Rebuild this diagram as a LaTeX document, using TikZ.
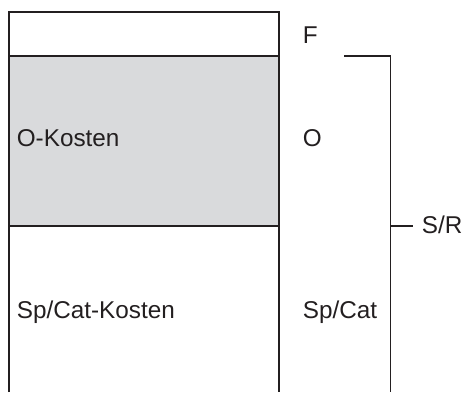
\documentclass[tikz,border=0pt]{standalone}
\usepackage{fontspec}
\setmainfont{Liberation Sans}
\usepackage{xcolor}
\usetikzlibrary{positioning}
\definecolor{okosten}{RGB}{217,218,220}
\definecolor{strich}{RGB}{35,31,32}

\begin{document}
\begin{tikzpicture}[x=1pt,y=-1pt,line width=1.6pt,
	lbl/.style={anchor=base west,inner sep=0pt,text=strich,font=\fontsize{24.3}{29}\selectfont},
	rand/.style={draw=strich}]
			\useasboundingbox (0,0) rectangle (462,392);
			\coordinate (tl) at (9,12);
			\coordinate (tr) at (279,12);
			\coordinate (ml) at (9,56);
			\coordinate (mr) at (279,56);
			\coordinate (ul) at (9,226);
			\coordinate (ur) at (279,226);
			\fill[okosten] (ml) rectangle (ur);
			\draw[rand] (9,392) -- (tl) -- (tr) -- (279,392);
			\draw[rand] (ml) -- (mr);
			\draw[rand] (ul) -- (ur);
			\node[lbl] (F) at (302,43) {F};
			\node[lbl] (O) at (302,146.5) {O};
			\node[lbl] (SpCat) at (302,318) {Sp/Cat};
			\node[lbl] (OKosten) at (16,146.5) {O-Kosten};
			\node[lbl] (SpCatKosten) at (16,318) {Sp/Cat-Kosten};
			\node[lbl] (SR) at (421,233) {S/R};
			\coordinate (ka) at (344,56);
			\coordinate (kb) at (390.5,56);
			\coordinate (kc) at (390.5,392);
			\coordinate (km) at (390.5,226);
			\coordinate (kt) at (413,226);
			\draw[rand] (ka) -- (kb) -- (kc);
			\draw[rand] (km) -- (kt);
		\end{tikzpicture}
\end{document}
